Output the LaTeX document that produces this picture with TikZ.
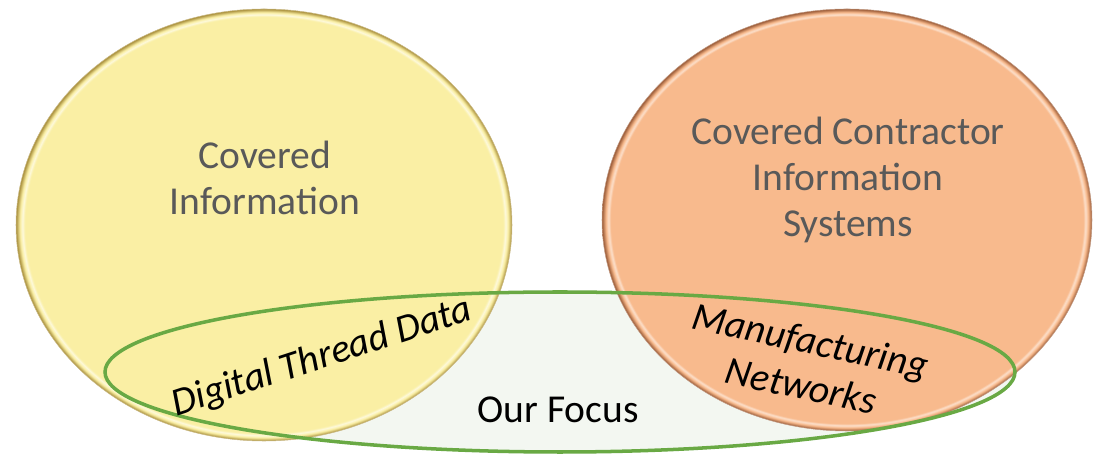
\documentclass[tikz,border=0pt]{standalone}
\usepackage{fontspec}
\setmainfont{Carlito}
\usetikzlibrary{shapes.geometric}

\definecolor{infoyellow}{HTML}{FAEFA4}
\definecolor{infoedge}{HTML}{A88E3A}
\definecolor{sysorange}{HTML}{F8BA8D}
\definecolor{sysedge}{HTML}{9A5A36}
\definecolor{focusgreen}{HTML}{69A944}
\definecolor{focusfill}{HTML}{F3F7F1}
\definecolor{labelgray}{HTML}{595959}

% bevelled rim for the two sets
\pgfdeclareradialshading{yellowbevel}{\pgfpointorigin}{%
  color(0bp)=(infoyellow); color(24.1bp)=(infoyellow);
  color(24.35bp)=(infoyellow!40!white); color(24.6bp)=(infoyellow);
  color(25bp)=(infoedge); color(50bp)=(infoedge)}
\pgfdeclareradialshading{orangebevel}{\pgfpointorigin}{%
  color(0bp)=(sysorange); color(24.1bp)=(sysorange);
  color(24.35bp)=(sysorange!45!white); color(24.6bp)=(sysorange);
  color(25bp)=(sysedge); color(50bp)=(sysedge)}

\begin{document}
\begin{tikzpicture}[
    x=0.02cm, y=-0.02cm,
    every node/.style={align=center},
    setlabel/.style={font=\fontsize{22.5}{26.2}\selectfont, text=labelgray},
    overlap/.style={font=\fontsize{22.5}{26.2}\selectfont\itshape, text=black},
    focus/.style={draw=focusgreen, line width=2pt}
]
    \useasboundingbox (0,0) rectangle (1093,455);

    % Focus area (fill first, outline on top)
    \fill[focusfill] (560,372) ellipse [x radius=455, y radius=80];

    % The two sets
    \shade[shading=yellowbevel] (264,225) ellipse [x radius=248, y radius=216];
    \shade[shading=orangebevel] (847,220) ellipse [x radius=245, y radius=211];
    \draw[infoedge!60, line width=0.3pt] (264,225) ellipse [x radius=248, y radius=216];
    \draw[sysedge!60, line width=0.3pt] (847,220) ellipse [x radius=245, y radius=211];

    \draw[focus] (560,372) ellipse [x radius=455, y radius=80];

    % Labels
    \node[setlabel] (covinfo) at (265,178) {Covered\\Information};
    \node[setlabel] (contractor) at (848,180) {Covered Contractor\\Information\\Systems};
    \node[overlap, rotate=18] (thread) at (322,358) {Digital Thread Data};
    \node[overlap, rotate=-12] (mfgnet) at (806,363) {Manufacturing\\Networks};
    \node[font=\fontsize{22.5}{26.2}\selectfont, text=black] (ourfocus) at (558,410) {Our Focus};

\end{tikzpicture}
\end{document}
